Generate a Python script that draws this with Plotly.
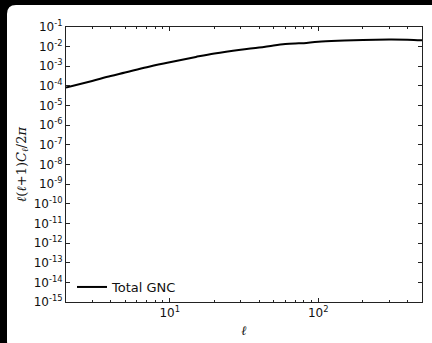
import plotly.graph_objects as go

# Data
ell = [2, 3, 4, 5, 7, 10, 15, 20, 30, 40, 50, 60, 70, 80, 100, 150, 200, 300, 400, 500]
cl_total = [8.2e-5, 1.8e-4, 3.2e-4, 4.8e-4, 9.0e-4, 1.6e-3, 3.0e-3, 4.5e-3, 7.0e-3, 9.0e-3,
            1.15e-2, 1.35e-2, 1.45e-2, 1.5e-2, 1.8e-2, 2.05e-2, 2.2e-2, 2.3e-2, 2.25e-2, 2.1e-2]
series_name = "Total GNC"
y_exps = list(range(-1, -16, -1))
y_tickvals = [10.0 ** k for k in y_exps]
y_ticktext = [f"10<sup>{k}</sup>" for k in y_exps]
x_tickvals = [10, 100]
x_ticktext = ["10<sup>1</sup>", "10<sup>2</sup>"]

W, H = 432, 343
L, R, T, B = 66, 10, 27, 41
pw, ph = W - L - R, H - T - B


def px(x):
    return (x - L) / pw


def py(y):
    return (H - B - y) / ph


fig = go.Figure()
fig.add_trace(go.Scatter(x=ell, y=cl_total, mode="lines", name=series_name,
                         line=dict(color="black", width=2), line_shape="spline"))

# White rounded panel on black background
x0, x1, y0, y1, r = 7, 440, 5, 350, 9
path = (f"M {px(x0 + r)},{py(y0)} L {px(x1 - r)},{py(y0)} Q {px(x1)},{py(y0)} {px(x1)},{py(y0 + r)} "
        f"L {px(x1)},{py(y1 - r)} Q {px(x1)},{py(y1)} {px(x1 - r)},{py(y1)} "
        f"L {px(x0 + r)},{py(y1)} Q {px(x0)},{py(y1)} {px(x0)},{py(y1 - r)} "
        f"L {px(x0)},{py(y0 + r)} Q {px(x0)},{py(y0)} {px(x0 + r)},{py(y0)} Z")
fig.add_shape(type="path", path=path, xref="paper", yref="paper", fillcolor="white",
              line=dict(width=0), layer="below")

axis_common = dict(showline=True, linecolor="#222", linewidth=1, mirror="ticks",
                   ticks="inside", ticklen=4, tickcolor="#222", showgrid=False, zeroline=False,
                   tickfont=dict(family="DejaVu Sans", size=12, color="#111"),
                   automargin=False)

fig.update_xaxes(type="log", range=[0.301, 2.699], tickvals=x_tickvals, ticktext=x_ticktext,
                 minor=dict(ticks="inside", ticklen=2, tickcolor="#222", dtick="D1", showgrid=False),
                 title=dict(text="<i>ℓ</i>", font=dict(family="DejaVu Serif", size=13, color="#111"),
                            standoff=6),
                 **axis_common)
fig.update_yaxes(type="log", range=[-15, -1], tickvals=y_tickvals, ticktext=y_ticktext,
                 title=dict(text="<i>ℓ</i>(<i>ℓ</i>+1)<i>C<sub>ℓ</sub></i>/2<i>π</i>",
                            font=dict(family="DejaVu Serif", size=13, color="#111"), standoff=4),
                 **axis_common)

fig.update_layout(width=W, height=H, margin=dict(l=L, r=R, t=T, b=B),
                  paper_bgcolor="black", plot_bgcolor="white",
                  showlegend=True,
                  legend=dict(x=px(72), y=py(287), xanchor="left", yanchor="middle",
                              bgcolor="rgba(0,0,0,0)", borderwidth=0,
                              font=dict(family="DejaVu Sans", size=13, color="#111")))

fig.write_html("out.html")
